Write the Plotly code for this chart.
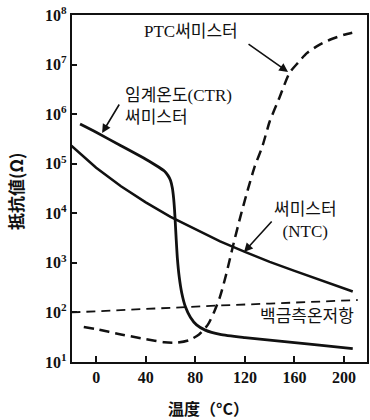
import plotly.graph_objects as go

# ---- data ----
ntc_t = [-20, 0, 20, 40, 60, 80, 100, 120, 140, 160, 180, 207]
ntc_r = [2.3e5, 8.3e4, 3.5e4, 1.66e4, 8.5e3, 4.7e3, 2.7e3, 1.66e3, 1.05e3, 690, 460, 265]

ctr_t = [-13, 0, 20, 40, 50, 55, 58, 60, 61.5, 62.5, 63.2, 63.7, 64.5, 65.5, 67, 69, 72, 76, 81, 88, 100, 120, 140, 160, 180, 207]
ctr_r = [6.3e5, 4.3e5, 2.3e5, 1.23e5, 8.7e4, 7.1e4, 5.75e4, 4.6e4, 3.2e4, 2.0e4, 1.2e4, 7.4e3, 3.2e3, 1.25e3, 520, 250, 130, 80, 56, 44, 36, 31, 27.5, 24.5, 22, 18.6]

ptc_t = [-10, 0, 20, 40, 55, 65, 75, 83, 90, 95, 100, 105, 110, 116, 122, 128, 134, 140, 148, 156, 163, 170, 180, 189, 200, 210]
ptc_r = [51, 46, 36, 29, 25, 24.5, 27.5, 36, 56, 100, 210, 600, 2000, 7900, 2.8e4, 8.9e4, 2.2e5, 7.1e5, 2.2e6, 6.8e6, 1.1e7, 1.7e7, 2.5e7, 3.2e7, 4.0e7, 4.6e7]

pt_t = [-20, 20, 60, 100, 140, 180, 211]
pt_r = [100, 112, 123, 138, 151, 166, 178]

x_ticks = [0, 40, 80, 120, 160, 200]
y_tickvals = [10, 100, 1e3, 1e4, 1e5, 1e6, 1e7, 1e8]
y_ticktext = ["10<sup>1</sup>", "10<sup>2</sup>", "10<sup>3</sup>", "10<sup>4</sup>",
              "10<sup>5</sup>", "10<sup>6</sup>", "10<sup>7</sup>", "10<sup>8</sup>"]

SERIF = "Liberation Serif, Noto Sans CJK KR"
BLACK = "#111111"

fig = go.Figure()
fig.add_trace(go.Scatter(x=ntc_t, y=ntc_r, mode="lines", line=dict(color=BLACK, width=2.5), showlegend=False))
fig.add_trace(go.Scatter(x=ctr_t, y=ctr_r, mode="lines", line=dict(color=BLACK, width=2.8, shape="spline", smoothing=0.6), showlegend=False))
fig.add_trace(go.Scatter(x=ptc_t, y=ptc_r, mode="lines", line=dict(color=BLACK, width=2.5, dash="10px,6px", shape="spline", smoothing=0.6), showlegend=False))
fig.add_trace(go.Scatter(x=pt_t, y=pt_r, mode="lines", line=dict(color=BLACK, width=1.8, dash="9px,6px"), showlegend=False))

ann = []
# labels
ann.append(dict(x=76.6, y=7.66, text="PTC써미스터", showarrow=False, font=dict(family=SERIF, size=17, color=BLACK)))
ann.append(dict(x=21.8, y=6.155, xanchor="left", align="left", text="임계온도(CTR)<br>써미스터", showarrow=False,
                font=dict(family=SERIF, size=17, color=BLACK)))
ann.append(dict(x=168.5, y=3.857, text="써미스터<br>(NTC)", showarrow=False, align="center",
                font=dict(family=SERIF, size=17, color=BLACK)))
ann.append(dict(x=170, y=1.91, text="백금측온저항", showarrow=False, font=dict(family=SERIF, size=17, color=BLACK)))
# leader lines
for tx, ty, ax, ay in [(154.8, 6.85, -41, -29), (4.8, 5.62, 18, -30), (119.3, 3.22, 29, -32)]:
    ann.append(dict(x=tx, y=ty, ax=ax, ay=ay, text="", showarrow=True, arrowhead=2, arrowsize=1.1,
                    arrowwidth=1.6, arrowcolor=BLACK, standoff=0))
# axis titles
ann.append(dict(xref="paper", yref="paper", x=(208 - 72) / 295, y=(362 - 408) / 347, xanchor="center",
                yanchor="middle", text="温度（°C）",
                showarrow=False, font=dict(family="Noto Sans CJK JP", size=16, color=BLACK, weight="bold")))
ann.append(dict(xref="paper", yref="paper", x=(15 - 72) / 295, y=(362 - 192) / 347, xanchor="center",
                yanchor="middle", text="抵抗値(Ω)",
                textangle=-90, showarrow=False, font=dict(family="Noto Sans CJK JP", size=17, color=BLACK, weight="bold")))

fig.update_layout(
    width=370, height=420,
    margin=dict(l=72, r=3, t=15, b=58, autoexpand=False),
    paper_bgcolor="white", plot_bgcolor="white",
    annotations=ann,
    xaxis=dict(range=[-19.5, 218.5], tickvals=x_ticks, ticks="inside", ticklen=6, tickwidth=1.5, tickcolor=BLACK,
               showgrid=False, zeroline=False, showline=True, linewidth=2.2, linecolor=BLACK, mirror=True,
               automargin=False,
               tickfont=dict(family="Liberation Serif", size=16, color=BLACK, weight="bold")),
    yaxis=dict(type="log", range=[1, 8], tickvals=y_tickvals, ticktext=y_ticktext, ticks="inside", ticklen=5,
               tickwidth=1.5, tickcolor=BLACK, showgrid=False, zeroline=False, showline=True, linewidth=2.2,
               linecolor=BLACK, mirror=True, automargin=False,
               tickfont=dict(family="Liberation Serif", size=16, color=BLACK, weight="bold")),
)

fig.write_html("out.html", config={"displayModeBar": False},
               post_script="document.body.style.margin='0px';document.body.style.overflow='hidden';")
